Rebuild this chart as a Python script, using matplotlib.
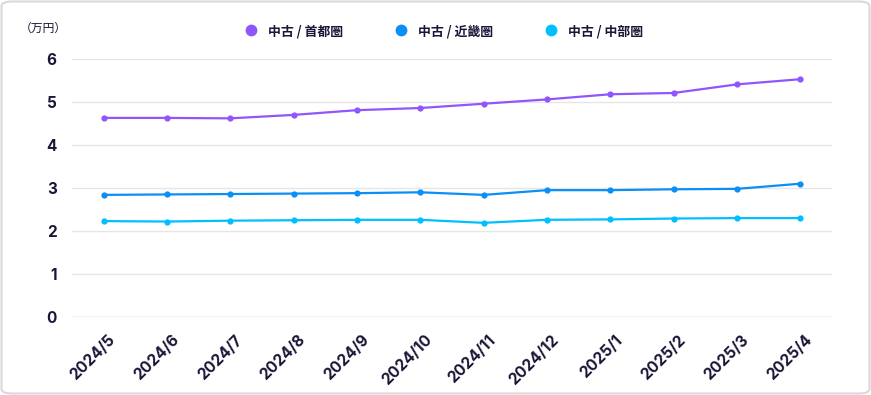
import matplotlib
matplotlib.use("Agg")
import matplotlib.pyplot as plt
from matplotlib.lines import Line2D
from matplotlib.patches import FancyBboxPatch
import matplotlib.transforms as mtransforms

months = ["2024/5", "2024/6", "2024/7", "2024/8", "2024/9", "2024/10",
          "2024/11", "2024/12", "2025/1", "2025/2", "2025/3", "2025/4"]
shutoken = [4.63, 4.63, 4.62, 4.70, 4.81, 4.86, 4.96, 5.06, 5.18, 5.21, 5.41, 5.53]
kinki = [2.84, 2.85, 2.86, 2.87, 2.88, 2.90, 2.84, 2.95, 2.95, 2.97, 2.98, 3.10]
chubu = [2.23, 2.22, 2.24, 2.25, 2.26, 2.26, 2.19, 2.26, 2.27, 2.29, 2.30, 2.30]
series_names = ["中古 / 首都圏", "中古 / 近畿圏", "中古 / 中部圏"]
colors = ["#9155FD", "#0A8FF5", "#00BFFF"]
yticks = [0, 1, 2, 3, 4, 5, 6]

TXT = "#1B1537"
plt.rcParams['font.family'] = ['Inter', 'Noto Sans CJK JP', 'DejaVu Sans']

W, H = 871, 395
fig = plt.figure(figsize=(W / 100, H / 100), dpi=100)
fig.patch.set_facecolor("white")

# rounded border
border = FancyBboxPatch((1.5 / W, 1.5 / H), (W - 3) / W, (H - 3) / H,
                        boxstyle="round,pad=0,rounding_size=0.012",
                        transform=fig.transFigure, facecolor="none",
                        edgecolor="#D9D9D9", linewidth=1.5, zorder=-1)
fig.patches.append(border)

left, right, top, bottom = 72, 832, 59, 317
ax = fig.add_axes([left / W, (H - bottom) / H, (right - left) / W, (bottom - top) / H])
ax.set_facecolor("none")

x = list(range(len(months)))
for vals, c, name in zip([shutoken, kinki, chubu], colors, series_names):
    ax.plot(x, vals, color=c, lw=1.6, marker="o", markersize=4.5,
            markeredgewidth=0, label=name, zorder=3, solid_joinstyle="round")

ax.set_xlim(-0.5, len(months) - 0.5)
ax.set_ylim(0, 6)
ax.set_yticks(yticks)
ax.set_yticklabels([str(v) for v in yticks])
ax.set_xticks(x)
ax.set_xticklabels(months, rotation=45, ha="right", rotation_mode="anchor")
for s in ax.spines.values():
    s.set_visible(False)
ax.tick_params(axis="both", length=0, colors=TXT)
ax.tick_params(axis="y", pad=11, labelsize=11)
ax.tick_params(axis="x", pad=11, labelsize=11.2)
for lbl in ax.get_yticklabels() + ax.get_xticklabels():
    lbl.set_fontweight("bold")
    lbl.set_color(TXT)
offset = mtransforms.ScaledTranslation(4 / 100, 0, fig.dpi_scale_trans)
for lbl in ax.get_xticklabels():
    lbl.set_transform(lbl.get_transform() + offset)

ax.grid(axis="y", color="#E6E6E6", lw=1)
ax.set_axisbelow(True)
ax.axhline(0, color="#D0D0D8", lw=1, zorder=1)

fig.text(20 / W, 1 - 28 / H, "（万円）", fontsize=8.5, color=TXT,
         family=['Noto Sans CJK JP'], va="center", ha="left")

handles = [Line2D([], [], color=c, marker="o", linestyle="none", markersize=8.5,
                  markeredgewidth=0) for c in colors]
leg = fig.legend(handles, series_names, loc="center", bbox_to_anchor=(444 / W, 1 - 31 / H),
                 ncol=3, frameon=False, handletextpad=0.8, columnspacing=4.0,
                 handlelength=1.0,
                 prop={"family": ["Noto Sans CJK JP"], "weight": "bold", "size": 9.3})
for t in leg.get_texts():
    t.set_color(TXT)

fig.savefig("out.png", dpi=100, facecolor="white")
